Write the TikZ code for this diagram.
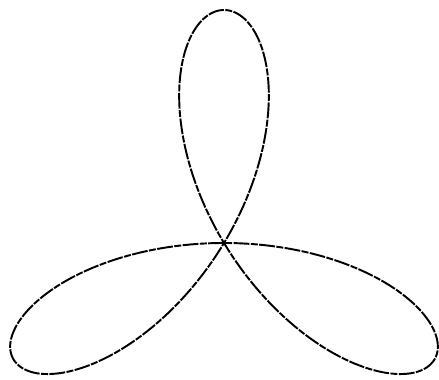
\documentclass[tikz,border=0pt]{standalone}
\begin{document}
\begin{tikzpicture}[rosecurve/.style={line width=1.1pt, dash pattern=on 9pt off 0.8pt on 4pt off 0.8pt, line join=round}]
\useasboundingbox (0,0) rectangle (8.78,7.6);
\draw[rosecurve, shift={(4.48cm,2.74cm)}, x=4.86cm, y=4.66cm] plot[domain=0:180, samples=361, smooth] ({-sin(3*\x)*cos(\x)}, {-sin(3*\x)*sin(\x)});
\end{tikzpicture}
\end{document}
